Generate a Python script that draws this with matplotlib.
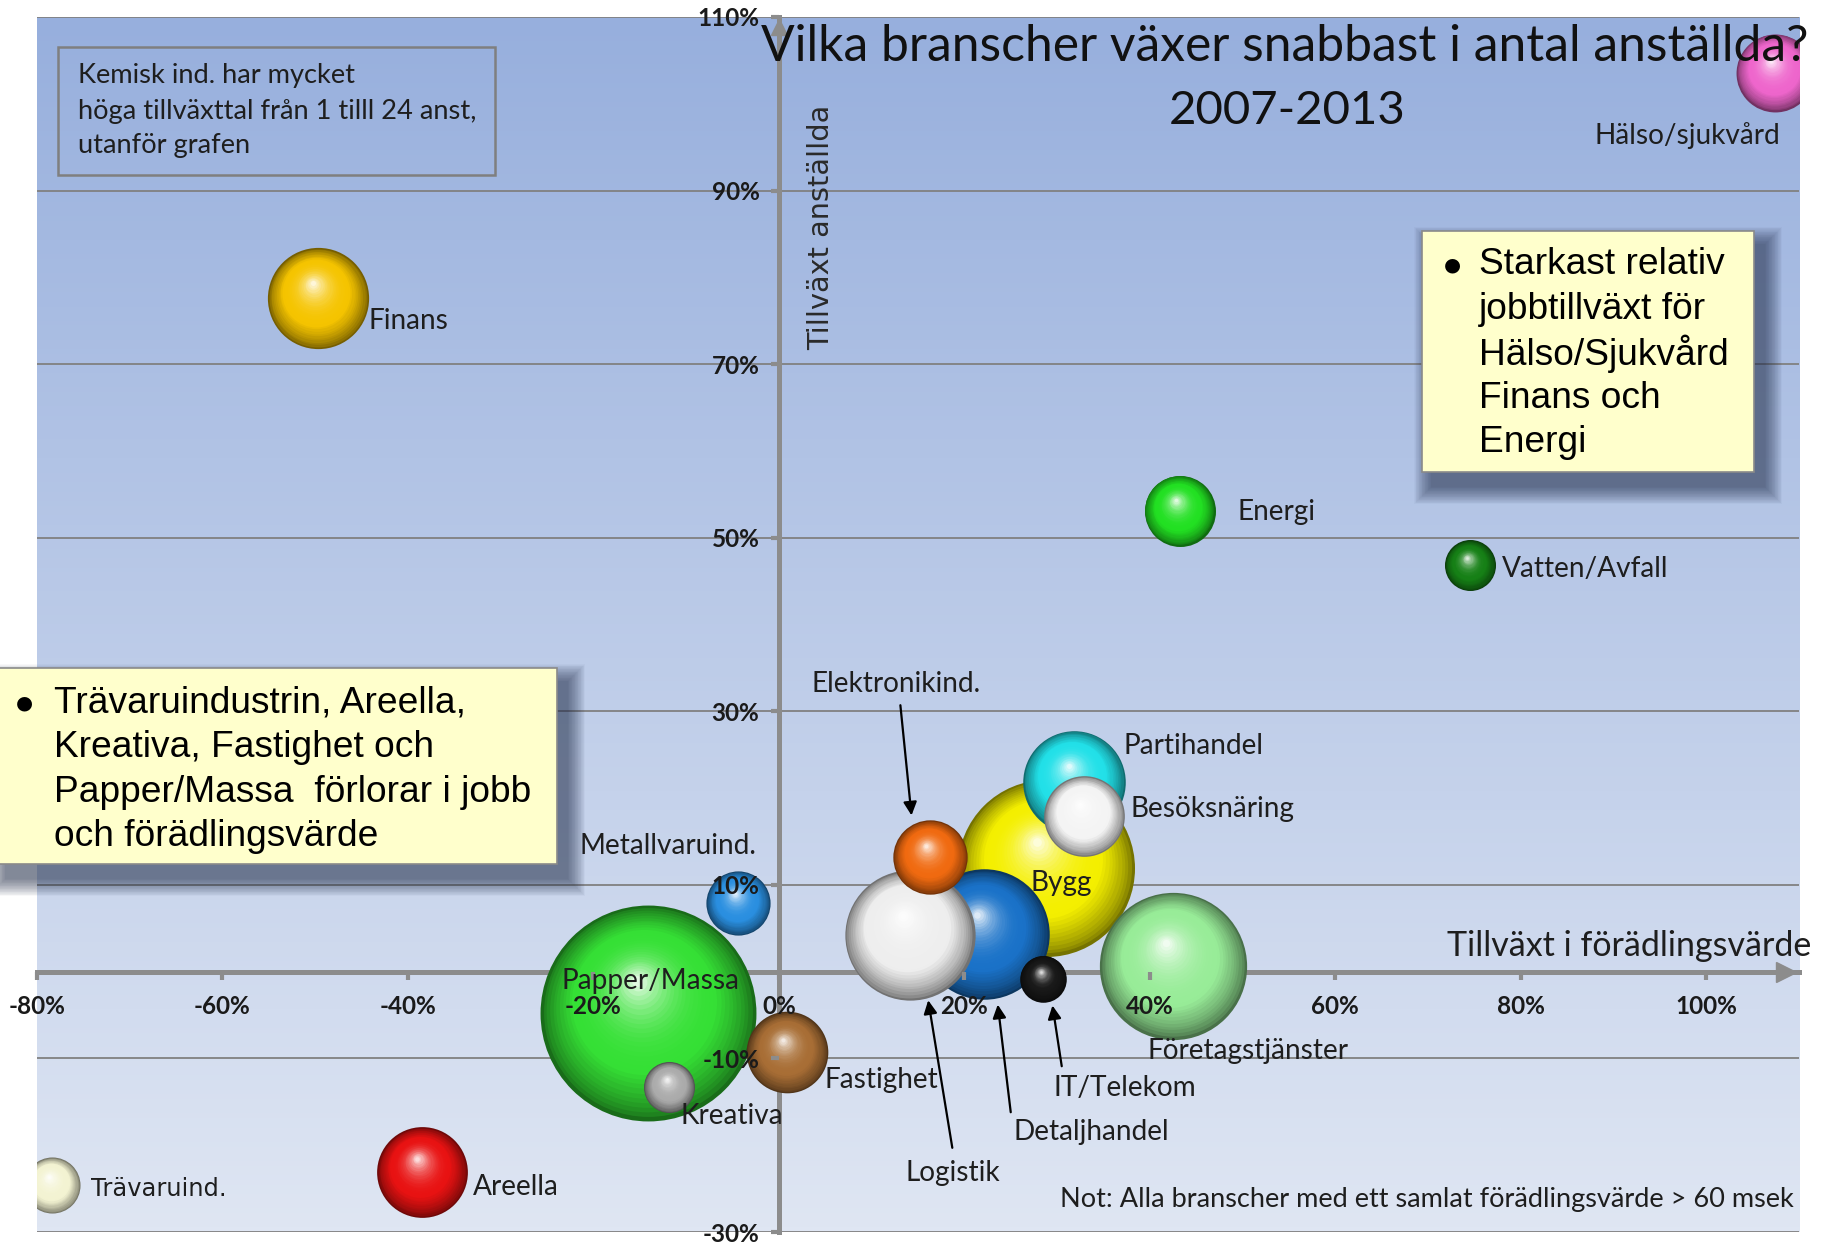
import numpy as np
import matplotlib
matplotlib.use("Agg")
import matplotlib.pyplot as plt
import matplotlib.colors as mcolors
import matplotlib.transforms as mtransforms
from matplotlib.patches import Rectangle

# ---------------- data ----------------
industries = ['Papper/Massa', 'Kreativa', 'Fastighet', 'Metallvaruind.', 'Areella',
              'Trävaruind.', 'Finans', 'Hälso/sjukvård', 'Energi', 'Vatten/Avfall',
              'Bygg', 'Partihandel', 'Besöksnäring', 'Detaljhandel', 'Logistik',
              'Elektronikind.', 'IT/Telekom', 'Företagstjänster']
value_growth = [-14.1, -11.8, 0.9, -4.4, -38.5, -78.4, -49.7, 107.4, 43.2, 74.5,
                28.8, 31.8, 32.9, 22.1, 14.1, 16.3, 28.5, 42.5]
employment_growth = [-4.8, -13.3, -9.3, 7.9, -23.1, -24.6, 77.6, 103.6, 53.1, 46.8,
                     11.9, 21.9, 17.9, 4.3, 4.2, 13.2, -0.8, 0.7]
bubble_size = [860, 48, 123, 76, 152, 58, 189, 112, 93, 48,
               578, 194, 120, 314, 313, 102, 40, 400]
bubble_colors = ['#35E035', '#ABABAB', '#A86E35', '#2A8FE0', '#E81212',
                 '#F3F3D2', '#F5C400', '#EE66CC', '#22E022', '#168016',
                 '#F4EF00', '#22E0E8', '#F4F4F4', '#1A72C8', '#EEEEEE',
                 '#F06A10', '#181818', '#98EC98']

x_ticks = [-80, -60, -40, -20, 0, 20, 40, 60, 80, 100]
y_ticks = [-30, -10, 10, 30, 50, 70, 90, 110]
tick_fmt = '{:d}%'

title_lines = ['Vilka branscher växer snabbast i antal anställda?', '2007-2013']
x_label = 'Tillväxt i förädlingsvärde'
y_label = 'Tillväxt anställda'
note = 'Not: Alla branscher med ett samlat förädlingsvärde > 60 msek'
kemisk_text = 'Kemisk ind. har mycket\nhöga tillväxttal från 1 tilll 24 anst,\nutanför grafen'
left_box_lines = ['Trävaruindustrin, Areella,', 'Kreativa, Fastighet och',
                  'Papper/Massa  förlorar i jobb', 'och förädlingsvärde']
right_box_lines = ['Starkast relativ', 'jobbtillväxt för', 'Hälso/Sjukvård',
                   'Finans och', 'Energi']

# label layout (data coordinates of the label anchor: left / centre)
label_pos = {
    'Papper/Massa': (-23.4, -1.1), 'Kreativa': (-10.6, -16.6), 'Fastighet': (4.9, -12.5),
    'Metallvaruind.': (-21.5, 14.5), 'Areella': (-33.0, -24.8), 'Trävaruind.': (-74.2, -25.0),
    'Finans': (-44.2, 75.0), 'Hälso/sjukvård': (87.9, 96.4), 'Energi': (49.4, 53.0),
    'Vatten/Avfall': (78.0, 46.4), 'Bygg': (27.1, 10.2), 'Partihandel': (37.2, 26.0),
    'Besöksnäring': (37.9, 18.7), 'Detaljhandel': (25.3, -18.5), 'Logistik': (13.7, -23.2),
    'Elektronikind.': (3.5, 33.2), 'IT/Telekom': (29.6, -13.4), 'Företagstjänster': (39.7, -9.1),
}
# arrows: label -> bubble
arrow_specs = {
    'Elektronikind.': ((13.1, 30.7), (14.3, 18.0)),
    'Logistik': ((18.7, -20.3), (16.1, -3.3)),
    'Detaljhandel': ((25.0, -16.2), (23.6, -3.8)),
    'IT/Telekom': ((30.5, -10.9), (29.5, -3.9)),
}

LABEL_FONT = ['Lato', 'DejaVu Sans']
BOX_FONT = ['Liberation Sans', 'DejaVu Sans']
BUBBLE_SCALE = 28.1

W, H = 1826, 1246
fig = plt.figure(figsize=(W / 100, H / 100), dpi=100)
fig.patch.set_facecolor('white')
ax = fig.add_axes([37 / W, 1 - 1232 / H, (1799 - 37) / W, (1232 - 17) / H])
ax.set_xlim(-80, 110)
ax.set_ylim(-30, 110)

# background gradient
top = np.array(mcolors.to_rgb('#97AFDD'))
bot = np.array(mcolors.to_rgb('#DFE6F3'))
g = np.linspace(0, 1, 256)[:, None]
grad = top[None, None, :] * (1 - g[..., None]) + bot[None, None, :] * g[..., None]
grad = np.repeat(grad, 2, axis=1)
ax.imshow(grad, extent=[-80, 110, -30, 110], aspect='auto', zorder=0, origin='upper')

for yv in y_ticks:
    ax.axhline(yv, color='#808080', lw=1.3, zorder=0.5)

# spines as crossing axes
for side in ['top', 'right']:
    ax.spines[side].set_visible(False)
ax.spines['left'].set_position(('data', 0))
ax.spines['bottom'].set_position(('data', 0))
for side in ['left', 'bottom']:
    ax.spines[side].set_color('#8C8C8C')
    ax.spines[side].set_linewidth(3.6)
    ax.spines[side].set_zorder(1)
ax.set_xticks(x_ticks)
ax.set_yticks(y_ticks)
ax.set_xticklabels([tick_fmt.format(v) for v in x_ticks])
ax.set_yticklabels([tick_fmt.format(v) for v in y_ticks])
ax.tick_params(axis='both', direction='out', length=6, width=3, color='#8C8C8C')
ax.tick_params(axis='x', pad=11)
ax.tick_params(axis='y', pad=8)
for lab in ax.get_xticklabels() + ax.get_yticklabels():
    lab.set_fontfamily(LABEL_FONT)
    lab.set_fontweight('bold')
    lab.set_fontsize(17.5)
    lab.set_color('#1a1a1a')
ax.xaxis.set_zorder(60)
ax.yaxis.set_zorder(60)

# arrowheads on axes
ax.plot([108.6], [0], marker='>', ms=15, color='#8C8C8C', clip_on=False, zorder=1)
ax.plot([0], [108.8], marker='^', ms=11, color='#8C8C8C', clip_on=False, zorder=1)


def sphere(x, y, size, color, z):
    s = size * BUBBLE_SCALE
    R = np.sqrt(s) / 2.0
    base = np.array(mcolors.to_rgb(color))
    n = 30
    for i in range(n):
        t = i / (n - 1)
        frac = 1 - 0.95 * t
        if t < 0.35:
            u = t / 0.35
            c = base * (0.48 + 0.52 * u ** 0.7)
        else:
            u = (t - 0.35) / 0.65
            c = base + (1 - base) * (0.85 * u ** 2.4)
        c = np.clip(c, 0, 1)
        dx = -0.10 * R * t
        dy = 0.30 * R * t
        tr = ax.transData + mtransforms.ScaledTranslation(dx / 72, dy / 72, fig.dpi_scale_trans)
        ax.scatter([x], [y], s=(2 * R * frac) ** 2, c=[c], transform=tr,
                   zorder=z + 0.02 * i, linewidths=0)


for k, (name, xv, yv, sz, col) in enumerate(zip(industries, value_growth, employment_growth,
                                                 bubble_size, bubble_colors)):
    sphere(xv, yv, sz, col, 3 + k)

# labels
for name in industries:
    lx, ly = label_pos[name]
    fam = ['DejaVu Sans'] if name == 'Trävaruind.' else LABEL_FONT
    fs = 17.4 if name == 'Trävaruind.' else 20.2
    ax.text(lx, ly, name, ha='left', va='center', fontsize=fs, family=fam,
            color='#1e1e1e', zorder=70)

for name, (start, end) in arrow_specs.items():
    ax.annotate('', xy=end, xytext=start,
                arrowprops=dict(arrowstyle='-|>', color='black', lw=1.6,
                                mutation_scale=20, shrinkA=0, shrinkB=0), zorder=70)

# title
ax.text(54.6, 106.6, title_lines[0], ha='center', va='center', fontsize=35.8,
        family=LABEL_FONT, color='#111111', zorder=80)
ax.text(54.8, 99.2, title_lines[1], ha='center', va='center', fontsize=34,
        family=LABEL_FONT, color='#111111', zorder=80)

# axis titles
ax.text(111.3, 3.0, x_label, ha='right', va='center', fontsize=24.5, family=LABEL_FONT,
        color='#1e1e1e', zorder=80, clip_on=False)
ax.text(4.5, 85.8, y_label, ha='center', va='center', rotation=90, fontsize=20.7,
        family=['DejaVu Sans'], color='#2a2a2a', zorder=80)

# note
ax.text(109.4, -26.2, note, ha='right', va='center', fontsize=19.5, family=LABEL_FONT,
        color='#1e1e1e', zorder=80)

# Kemisk box
fig.add_artist(Rectangle((58 / W, 1 - 175 / H), (495 - 58) / W, (175 - 47) / H,
                         transform=fig.transFigure, facecolor='none',
                         edgecolor='#7f7f7f', lw=1.8, zorder=5))
fig.text(78 / W, 1 - 111 / H, kemisk_text, ha='left', va='center', fontsize=19.6,
         family=LABEL_FONT, color='#1e1e1e', linespacing=1.5, zorder=6)


def yellow_box(x0, y0, x1, y1):
    # pixel coords (top-left origin); soft shadow offset down-right
    ox, oy = 10, 14
    n = 24
    for k in range(n, 0, -1):
        e = k * 0.75
        fig.add_artist(Rectangle(((x0 + ox - e) / W, 1 - (y1 + oy + e) / H),
                                 (x1 - x0 + 2 * e) / W, (y1 - y0 + 2 * e) / H,
                                 transform=fig.transFigure, facecolor='#26324e',
                                 edgecolor='none', alpha=0.032, zorder=5))
    fig.add_artist(Rectangle((x0 / W, 1 - y1 / H), (x1 - x0) / W, (y1 - y0) / H,
                             transform=fig.transFigure, facecolor='#FFFFCC',
                             edgecolor='#8a8a8a', lw=1.2, zorder=6))


yellow_box(-4, 668, 557, 864)
yellow_box(1422, 231, 1754, 472)

BOX_FS = 26.7
lh = 44.5
fig.text(16 / W, 1 - 703 / H, '●', ha='left', va='center', fontsize=14,
         family=['DejaVu Sans'], color='black', zorder=7)
for i, line in enumerate(left_box_lines):
    fig.text(54 / W, 1 - (703 + i * lh) / H, line, ha='left', va='center',
             fontsize=BOX_FS, family=BOX_FONT, color='black', zorder=7)
fig.text(1444 / W, 1 - 265 / H, '●', ha='left', va='center', fontsize=14,
         family=['DejaVu Sans'], color='black', zorder=7)
for i, line in enumerate(right_box_lines):
    fig.text(1479 / W, 1 - (265 + i * lh) / H, line, ha='left', va='center',
             fontsize=BOX_FS, family=BOX_FONT, color='black', zorder=7)

fig.savefig('out.png', dpi=100, facecolor='white')
